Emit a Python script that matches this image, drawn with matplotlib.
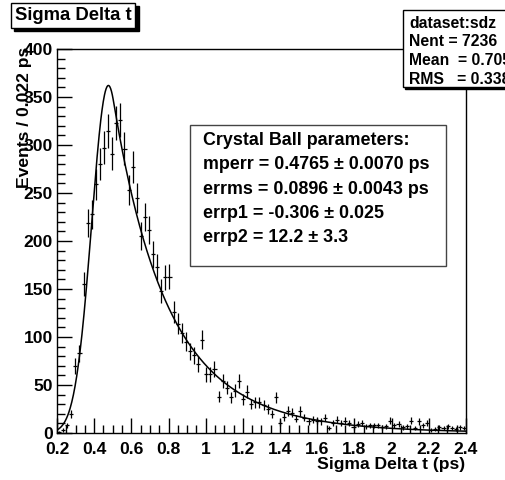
import matplotlib
matplotlib.use("Agg")
import matplotlib.pyplot as plt
from matplotlib.patches import Rectangle
import numpy as np

plt.rcParams['font.family'] = ['Liberation Sans', 'DejaVu Sans']
plt.rcParams['font.weight'] = 'bold'

# histogram: 100 bins of 0.022 ps from 0.2 to 2.4
x_lo, x_hi, n_bins = 0.2, 2.4, 100
counts = [
    1, 3, 8, 20, 70, 83, 155, 219, 228, 259,
    280, 297, 315, 291, 323, 326, 296, 253, 277, 245,
    205, 225, 211, 186, 173, 148, 162, 163, 126, 114,
    104, 95, 85, 81, 72, 97, 61, 61, 67, 38,
    54, 47, 37, 44, 54, 35, 43, 30, 32, 32,
    29, 25, 20, 37, 10, 17, 23, 21, 15, 23,
    16, 12, 14, 13, 12, 16, 5, 10, 14, 10,
    13, 10, 6, 9, 10, 7, 8, 8, 8, 6,
    7, 13, 8, 9, 6, 7, 13, 5, 12, 8,
    10, 3, 4, 6, 5, 7, 5, 4, 6, 5,
]

# Crystal Ball fit parameters (from the box)
mperr, errms, errp1, errp2 = 0.4765, 0.0896, -0.306, 12.2
peak_height = 362.0

fit_lines = [
    "Crystal Ball parameters:",
    "mperr = 0.4765 \u00b1 0.0070 ps",
    "errms = 0.0896 \u00b1 0.0043 ps",
    "errp1 = -0.306 \u00b1 0.025",
    "errp2 = 12.2 \u00b1 3.3",
]
stats_lines = ["dataset:sdz", "Nent = 7236", "Mean  = 0.7054", "RMS   = 0.3389"]


def crystal_ball(x, m, s, a, n):
    t = (x - m) / s
    if a < 0:
        t = -t
    aa = abs(a)
    A = (n / aa) ** n * np.exp(-aa * aa / 2)
    B = n / aa - aa
    out = np.exp(-t * t / 2)
    tail = t < -aa
    out[tail] = A * (B - t[tail]) ** (-n)
    return out


W, H = 506, 480
fig = plt.figure(figsize=(W / 100, H / 100), dpi=100)


def fx(px):
    return px / W


def fy(py):
    return 1 - py / H


ax = fig.add_axes([fx(57), fy(433), (466 - 57) / W, (433 - 49) / H])

width = (x_hi - x_lo) / n_bins
centers = x_lo + width * (np.arange(n_bins) + 0.5)
counts = np.array(counts, dtype=float)
ax.errorbar(centers, counts, xerr=width / 2, yerr=np.sqrt(counts),
            fmt='none', ecolor='black', elinewidth=0.9, capsize=0)

xs = np.linspace(x_lo, x_hi, 1000)
ax.plot(xs, peak_height * crystal_ball(xs, mperr, errms, errp1, errp2),
        color='black', lw=1.1)

ax.set_xlim(x_lo, x_hi)
ax.set_ylim(0, 400)
ax.set_xticks(np.arange(0.2, 2.41, 0.2))
ax.set_xticklabels(['0.2', '0.4', '0.6', '0.8', '1', '1.2', '1.4', '1.6', '1.8', '2', '2.2', '2.4'])
ax.set_xticks(np.arange(0.2, 2.41, 0.05), minor=True)
ax.set_yticks(np.arange(0, 401, 50))
ax.set_yticks(np.arange(0, 401, 10), minor=True)
ax.tick_params(which='both', direction='in', top=False, right=False, width=1)
ax.tick_params(which='major', length=11, labelsize=12.6)
ax.tick_params(which='minor', length=6)
ax.tick_params(axis='x', pad=6.5)
ax.tick_params(axis='y', pad=3)
for sp in ax.spines.values():
    sp.set_linewidth(1)

fig.text(fx(465), fy(465), "Sigma Delta t (ps)", ha='right', va='center', fontsize=12.6)
fig.text(fx(25), fy(47), "Events / 0.022 ps", rotation=90, ha='center', va='top', fontsize=12.6)

# title box with shadow
fig.add_artist(Rectangle((fx(14), fy(31)), fx(125), 25 / H, facecolor='black',
                         edgecolor='black', transform=fig.transFigure))
fig.add_artist(Rectangle((fx(11), fy(28)), fx(124), 25 / H, facecolor='white',
                         edgecolor='black', lw=1, transform=fig.transFigure))
fig.text(fx(73), fy(16), "Sigma Delta t", ha='center', va='center', fontsize=13.3, zorder=5)

# stats box
fig.add_artist(Rectangle((fx(405), fy(89)), fx(120), 77 / H, facecolor='black',
                         edgecolor='black', transform=fig.transFigure))
fig.add_artist(Rectangle((fx(403), fy(87)), fx(120), 77 / H, facecolor='white',
                         edgecolor='black', lw=1, transform=fig.transFigure))
for i, s in enumerate(stats_lines):
    fig.text(fx(409), fy(23.3 + 18.7 * i), s, ha='left', va='center', fontsize=11.3, zorder=5)

# fit parameter box
ax.add_patch(Rectangle((fx(190), fy(266)), fx(256), (266 - 125) / H, facecolor='white',
                       edgecolor='#444444', lw=1, transform=fig.transFigure, zorder=4))
for i, s in enumerate(fit_lines):
    fig.text(fx(203), fy(140 + 24.5 * i), s, ha='left', va='center', fontsize=12.9, zorder=5)

fig.savefig("out.png", dpi=100)
